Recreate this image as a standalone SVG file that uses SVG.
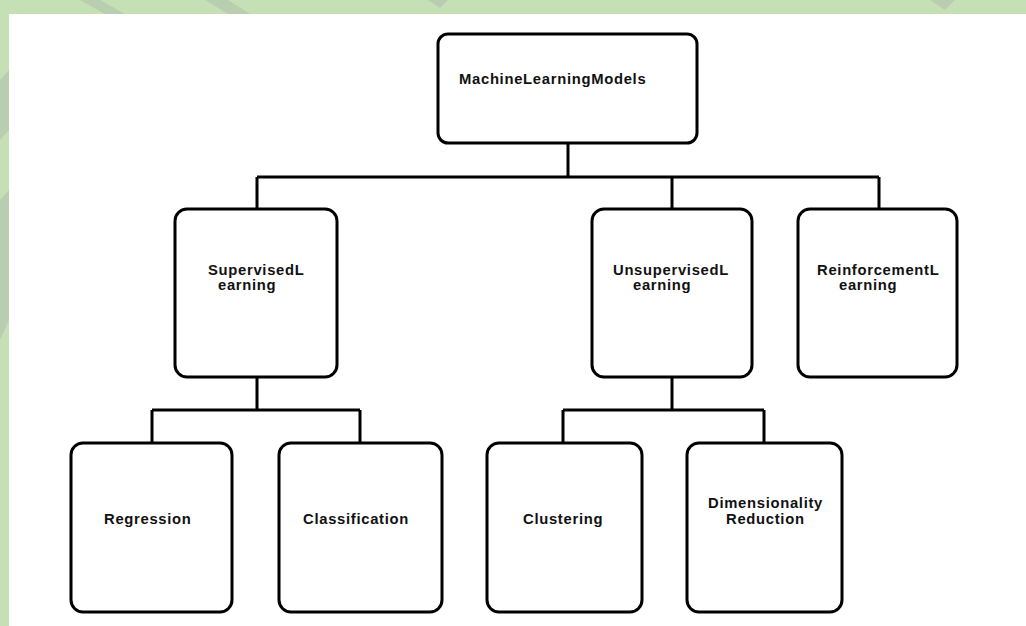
<svg xmlns="http://www.w3.org/2000/svg" width="1026" height="626" viewBox="0 0 1026 626">
  <defs>
    <style>
      .box { fill: #ffffff; stroke: #000000; stroke-width: 3; }
      .lbl { font-family: "Liberation Sans", Arial, sans-serif; font-weight: bold; font-size: 14.8px; letter-spacing: 0.7px; fill: #111111; }
      .conn { fill: none; stroke: #000000; stroke-width: 3; stroke-linejoin: miter; }
      .wm { fill: #b9cdb0; }
    </style>
    <clipPath id="frame">
      <path d="M0 0 H1026 V14 H9 V626 H0 Z"/>
    </clipPath>
  </defs>

  <g id="background">
    <rect x="0" y="0" width="1026" height="626" fill="#c5e0b4"/>
    <g clip-path="url(#frame)">
      <polygon class="wm" points="80,0 100,0 125,14 105,14"/>
      <polygon class="wm" points="205,0 228,0 250,14 228,14"/>
      <polygon class="wm" points="428,0 448,0 440,8"/>
      <polygon class="wm" points="930,0 955,0 945,10"/>
      <polygon class="wm" points="0,80 9,70 9,130 0,140"/>
      <polygon class="wm" points="0,200 9,190 9,320 0,340"/>
    </g>
    <rect x="9" y="14" width="1017" height="612" fill="#ffffff"/>
  </g>

  <g id="connectors">
    <path class="conn" d="M568 143 V177 M257 177 H879 M257 177 V209 M672 177 V209 M879 177 V209"/>
    <path class="conn" d="M257 377 V410 M152 410 H360 M152 410 V443 M360 410 V443"/>
    <path class="conn" d="M672 377 V410 M563 410 H764 M563 410 V443 M764 410 V443"/>
  </g>

  <g id="node-root">
    <rect class="box" x="438" y="34" width="259" height="109" rx="10"/>
    <text class="lbl" x="459" y="84">MachineLearningModels</text>
  </g>

  <g id="node-supervised">
    <rect class="box" x="175" y="209" width="162" height="168" rx="12"/>
    <text class="lbl" x="208" y="275">SupervisedL</text>
    <text class="lbl" x="218" y="290">earning</text>
  </g>

  <g id="node-unsupervised">
    <rect class="box" x="592" y="209" width="160" height="168" rx="12"/>
    <text class="lbl" x="613" y="275">UnsupervisedL</text>
    <text class="lbl" x="633" y="290">earning</text>
  </g>

  <g id="node-reinforcement">
    <rect class="box" x="798" y="209" width="159" height="168" rx="12"/>
    <text class="lbl" x="817" y="275">ReinforcementL</text>
    <text class="lbl" x="839" y="290">earning</text>
  </g>

  <g id="node-regression">
    <rect class="box" x="71" y="443" width="161" height="169" rx="12"/>
    <text class="lbl" x="104" y="524">Regression</text>
  </g>

  <g id="node-classification">
    <rect class="box" x="279" y="443" width="163" height="169" rx="12"/>
    <text class="lbl" x="303" y="524">Classification</text>
  </g>

  <g id="node-clustering">
    <rect class="box" x="487" y="443" width="155" height="169" rx="12"/>
    <text class="lbl" x="523" y="524">Clustering</text>
  </g>

  <g id="node-dimensionality">
    <rect class="box" x="687" y="443" width="155" height="169" rx="12"/>
    <text class="lbl" x="708" y="508">Dimensionality</text>
    <text class="lbl" x="726" y="524">Reduction</text>
  </g>
</svg>
